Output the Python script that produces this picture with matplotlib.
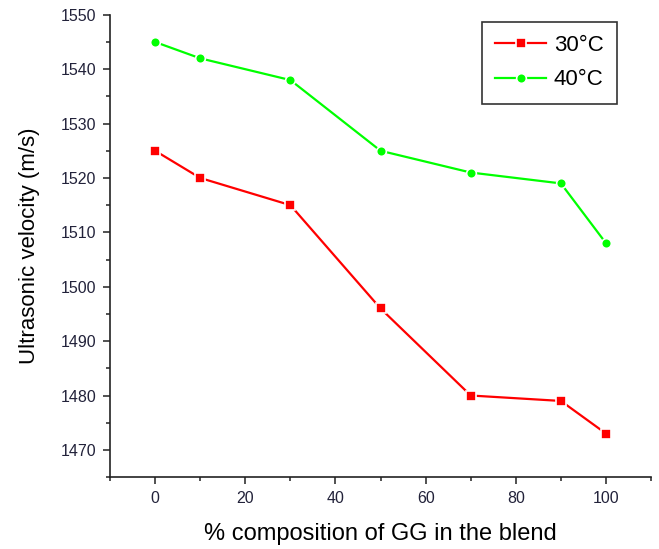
import matplotlib.pyplot as plt
from matplotlib.ticker import MultipleLocator

plt.rcParams['font.family'] = ['Liberation Sans', 'DejaVu Sans']

# composition of GG (%) and ultrasonic velocity at two temperatures
gg = [0, 10, 30, 50, 70, 90, 100]
vel_30 = [1525, 1520, 1515, 1496, 1480, 1479, 1473]
vel_40 = [1545, 1542, 1538, 1525, 1521, 1519, 1508]

fig = plt.figure(figsize=(6.59, 5.49), dpi=100)
ax = fig.add_axes([0.167, 0.131, 0.821, 0.842])

ax.plot(gg, vel_30, color='#ff0000', lw=1.6, marker='s', ms=6.5,
        mec='white', mew=1.2, label='30°C')
ax.plot(gg, vel_40, color='#00ff00', lw=1.6, marker='o', ms=7,
        mec='white', mew=1.2, label='40°C')

ax.set_xlim(-10, 110)
ax.set_ylim(1465, 1550)
ax.xaxis.set_major_locator(MultipleLocator(20))
ax.xaxis.set_minor_locator(MultipleLocator(10))
ax.yaxis.set_major_locator(MultipleLocator(10))
ax.yaxis.set_minor_locator(MultipleLocator(5))
ax.set_xticks([0, 20, 40, 60, 80, 100])
ax.set_yticks(range(1470, 1551, 10))

for s in ['top', 'right']:
    ax.spines[s].set_visible(False)
for s in ['left', 'bottom']:
    ax.spines[s].set_linewidth(1.2)
    ax.spines[s].set_color('#222222')

ax.tick_params(which='major', direction='out', length=5, width=1.1,
               labelsize=11.5, colors='#222222', pad=5)
ax.tick_params(which='minor', direction='out', length=3, width=1.1,
               colors='#222222')
ax.tick_params(axis='both', labelcolor='#22223a')

ax.set_xlabel('% composition of GG in the blend', fontsize=17, labelpad=12)
ax.set_ylabel('Ultrasonic velocity (m/s)', fontsize=16, labelpad=15)

leg = ax.legend(loc='upper right', bbox_to_anchor=(0.937, 0.985),
                borderaxespad=0, fontsize=16, fancybox=False, framealpha=1,
                edgecolor='#333333', handlelength=2.3, handletextpad=0.35,
                borderpad=0.6, labelspacing=0.6)
leg.get_frame().set_linewidth(1.2)

fig.savefig('out.png', dpi=100)
